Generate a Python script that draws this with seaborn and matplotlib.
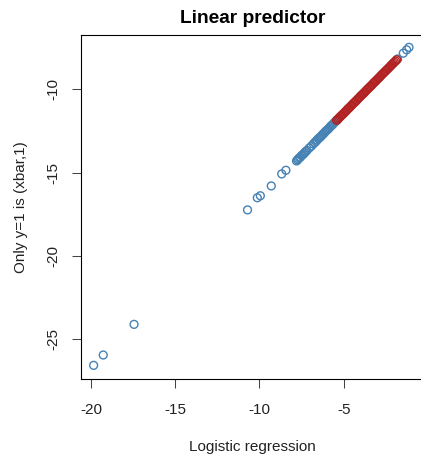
import matplotlib
matplotlib.use("Agg")
import matplotlib.pyplot as plt
import seaborn as sns

# linear predictor: logistic regression (x) vs "only y=1" fit (y)
# sparse blue points down the lower-left tail
tail_x = [-19.85, -19.28, -17.45, -10.71, -10.13, -9.95, -9.30, -8.68, -8.43]
tail_y = [-26.57, -25.95, -24.11, -17.24, -16.51, -16.39, -15.80, -15.08, -14.86]

# dense blue band (all observations) and a few beyond the red band
blue_x = [-7.80, -7.74, -7.69, -7.62, -7.57, -7.50, -7.44, -7.38, -7.31, -7.25,
          -7.18, -7.05, -6.92, -6.80, -6.72, -6.64, -6.57, -6.50, -6.44, -6.37,
          -6.31, -6.24, -6.18, -6.11, -6.05, -5.98, -5.92, -5.85, -5.79, -5.72,
          -5.66, -5.59, -5.53, -5.46, -5.40, -5.35, -1.80, -1.46, -1.26, -1.12]
blue_y = [-14.30, -14.24, -14.17, -14.11, -14.07, -13.98, -13.93, -13.88, -13.80, -13.73,
          -13.67, -13.53, -13.41, -13.28, -13.19, -13.12, -13.04, -12.96, -12.91, -12.85,
          -12.78, -12.70, -12.65, -12.57, -12.50, -12.44, -12.39, -12.31, -12.24, -12.17,
          -12.12, -12.04, -11.97, -11.91, -11.86, -11.80, -8.18, -7.83, -7.63, -7.48]

# red points (y = 1 subset)
red_x = [-5.42, -5.35, -5.28, -5.21, -5.15, -5.07, -5.00, -4.93, -4.86, -4.79,
         -4.72, -4.65, -4.58, -4.51, -4.44, -4.37, -4.30, -4.23, -4.16, -4.09,
         -4.02, -3.95, -3.88, -3.81, -3.74, -3.67, -3.60, -3.53, -3.46, -3.39,
         -3.32, -3.25, -3.18, -3.11, -3.04, -2.97, -2.90, -2.83, -2.76, -2.69,
         -2.62, -2.55, -2.48, -2.41, -2.34, -2.27, -2.20, -2.13, -2.06, -1.99,
         -1.92, -1.85]
red_y = [-11.86, -11.80, -11.72, -11.65, -11.59, -11.51, -11.45, -11.37, -11.30, -11.22,
         -11.15, -11.09, -11.01, -10.94, -10.86, -10.80, -10.73, -10.66, -10.58, -10.51,
         -10.44, -10.36, -10.30, -10.23, -10.16, -10.08, -10.01, -9.94, -9.87, -9.80,
         -9.73, -9.65, -9.58, -9.52, -9.44, -9.37, -9.30, -9.23, -9.15, -9.08,
         -9.01, -8.94, -8.87, -8.80, -8.73, -8.66, -8.58, -8.51, -8.44, -8.37,
         -8.30, -8.23]

x_ticks = [-20, -15, -10, -5]
y_ticks = [-25, -20, -15, -10]

sns.set_style("white")
plt.rcParams["font.family"] = ["Liberation Sans", "DejaVu Sans"]
plt.rcParams["axes.unicode_minus"] = False

fig = plt.figure(figsize=(4.21, 4.54), dpi=100)
ax = fig.add_axes([0.1924, 0.1652, 0.8147, 0.7577])

pt = dict(s=32, facecolors="none", linewidth=1.0, legend=False)
sns.scatterplot(x=tail_x + blue_x, y=tail_y + blue_y, ax=ax,
                edgecolor="steelblue", **pt)
sns.scatterplot(x=red_x, y=red_y, ax=ax, edgecolor="firebrick", **pt)

ax.set_xlim(-20.60, -0.23)
ax.set_ylim(-27.39, -6.74)
ax.set_xticks(x_ticks)
ax.set_yticks(y_ticks)
ax.set_xticklabels([str(v) for v in x_ticks])
ax.set_yticklabels([str(v) for v in y_ticks], rotation=90, va="center")

for s in ax.spines.values():
    s.set_visible(True)
    s.set_color("black")
    s.set_linewidth(0.8)

ax.tick_params(axis="both", direction="out", length=6.5, width=0.75,
               color="#444444", labelsize=11, labelcolor="#222222",
               bottom=True, left=True)
ax.tick_params(axis="x", pad=11)
ax.tick_params(axis="y", pad=8)

ax.set_title("Linear predictor", fontsize=13.8, fontweight="bold",
             color="black", pad=8.6)
ax.set_xlabel("Logistic regression", fontsize=11, color="#222222")
ax.set_ylabel("Only y=1 is (xbar,1)", fontsize=11, color="#222222")
ax.xaxis.set_label_coords(0.5, -0.178)
ax.yaxis.label.set_va("center")
ax.yaxis.set_label_coords(-0.175, 0.5)

fig.savefig("out.png", dpi=100)
